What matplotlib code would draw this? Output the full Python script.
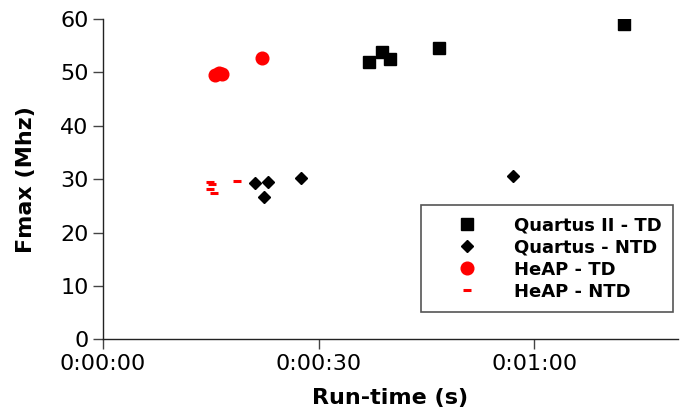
import matplotlib
matplotlib.use('Agg')
import matplotlib.pyplot as plt
from matplotlib.ticker import FuncFormatter

# run-time in seconds, Fmax in MHz
qii_td_time = [37.0, 38.8, 39.9, 46.8, 72.5]
qii_td_fmax = [51.9, 53.9, 52.6, 54.5, 59.0]

q_ntd_time = [21.1, 23.0, 22.4, 27.5, 57.1]
q_ntd_fmax = [29.3, 29.5, 26.6, 30.2, 30.7]

heap_td_time = [15.6, 16.1, 16.5, 22.1]
heap_td_fmax = [49.6, 49.8, 49.7, 52.7]

heap_ntd_time = [14.9, 15.2, 14.9, 15.4, 18.6]
heap_ntd_fmax = [29.4, 29.1, 28.1, 27.5, 29.7]

x_ticks = [0, 30, 60]
y_ticks = [0, 10, 20, 30, 40, 50, 60]


def hms(v, pos):
    v = int(round(v))
    return '%d:%02d:%02d' % (v // 3600, (v % 3600) // 60, v % 60)


fig = plt.figure(figsize=(6.85, 4.13), dpi=100)
ax = fig.add_axes([0.1504, 0.178, 0.8394, 0.776])

ax.plot(qii_td_time, qii_td_fmax, 's', color='black', markersize=9.1, linestyle='none', label='Quartus II - TD')
ax.plot(q_ntd_time, q_ntd_fmax, 'D', color='black', markersize=6.3, linestyle='none', label='Quartus - NTD')
ax.plot(heap_td_time, heap_td_fmax, 'o', color='#ff0000', markersize=9.1, linestyle='none', label='HeAP - TD')
ax.plot(heap_ntd_time, heap_ntd_fmax, '_', color='#ff0000', markersize=5.3, markeredgewidth=2.2, linestyle='none', label='HeAP - NTD')

ax.set_xlim(0, 80)
ax.set_ylim(0, 60)
ax.set_xticks(x_ticks)
ax.set_yticks(y_ticks)
ax.xaxis.set_major_formatter(FuncFormatter(hms))
ax.tick_params(labelsize=16, length=7, width=1, color='#444444', direction='out')

for s in ['top', 'right']:
    ax.spines[s].set_visible(False)
for s in ['left', 'bottom']:
    ax.spines[s].set_color('#222222')
    ax.spines[s].set_linewidth(1)

ax.set_xlabel('Run-time (s)', fontsize=16, fontweight='bold', labelpad=10)
ax.set_ylabel('Fmax (Mhz)', fontsize=16, fontweight='bold', labelpad=17)

leg = ax.legend(loc='upper left', bbox_to_anchor=(0.553, 0.42), borderaxespad=0,
                fancybox=False, edgecolor='#555555', framealpha=1,
                prop={'weight': 'bold', 'size': 13}, handletextpad=0.7,
                labelspacing=0.22, borderpad=0.65, handlelength=3.8)
leg.get_frame().set_linewidth(1.2)

fig.savefig('out.png', dpi=100)
